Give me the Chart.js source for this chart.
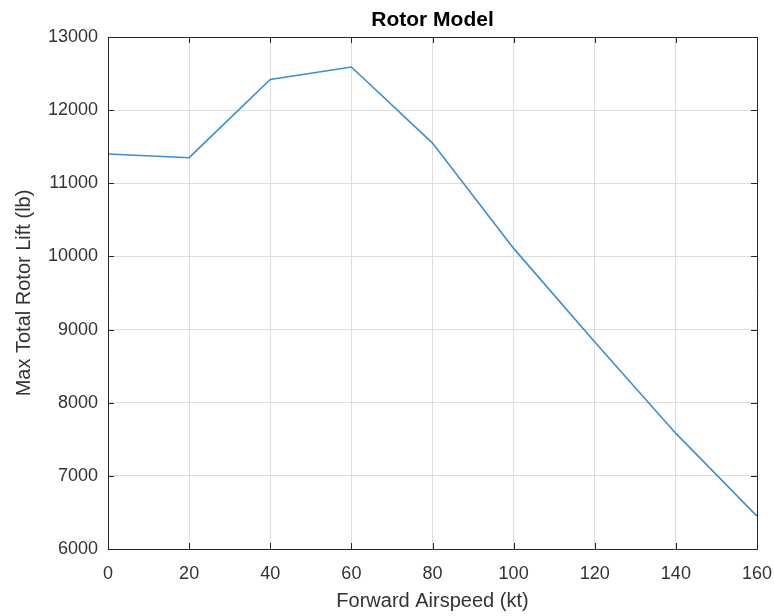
<!DOCTYPE html>
<html>
<head>
<meta charset="utf-8">
<title>Rotor Model</title>
<script src="https://cdn.jsdelivr.net/npm/chart.js@4.4.1/dist/chart.umd.min.js"></script>
<style>
  html, body { margin: 0; padding: 0; background: #ffffff; }
  #wrap { width: 774px; height: 616px; }
</style>
</head>
<body>
<div id="wrap"><canvas id="chart" width="774" height="616"></canvas></div>
<script>
// Forward airspeed (kt) and maximum total rotor lift (lb)
const airspeed = [0, 20, 40, 60, 80, 100, 120, 140, 160];
const maxLift = [11400, 11350, 12420, 12590, 11550, 10110, 8830, 7580, 6450];

const xTicks = [0, 20, 40, 60, 80, 100, 120, 140, 160];
const yTicks = [6000, 7000, 8000, 9000, 10000, 11000, 12000, 13000];

const chartTitle = 'Rotor Model';
const xTitle = 'Forward Airspeed (kt)';
const yTitle = 'Max Total Rotor Lift (lb)';

const FONT = "'Liberation Sans', Arial, Helvetica, sans-serif";
const AXIS_COLOR = '#262626';
const LABEL_COLOR = '#333333';
const GRID_COLOR = '#dedede';
const TICK_LEN = 6;

// Box around the plot area with inward tick marks on all four sides,
// plus the bold title centred over the plot area.
const boxPlugin = {
  id: 'boxPlugin',
  afterDatasetsDraw(chart) {
    const { ctx, chartArea: a, scales } = chart;
    const xs = scales.x, ys = scales.y;
    ctx.save();
    ctx.strokeStyle = AXIS_COLOR;
    ctx.lineWidth = 1;
    ctx.beginPath();
    ctx.rect(Math.round(a.left) + 0.5, Math.round(a.top) + 0.5,
             Math.round(a.right - a.left), Math.round(a.bottom - a.top));
    ctx.stroke();
    ctx.beginPath();
    xs.ticks.forEach(t => {
      const px = Math.round(xs.getPixelForValue(t.value)) + 0.5;
      ctx.moveTo(px, a.bottom); ctx.lineTo(px, a.bottom - TICK_LEN);
      ctx.moveTo(px, a.top); ctx.lineTo(px, a.top + TICK_LEN);
    });
    ys.ticks.forEach(t => {
      const py = Math.round(ys.getPixelForValue(t.value)) + 0.5;
      ctx.moveTo(a.left, py); ctx.lineTo(a.left + TICK_LEN, py);
      ctx.moveTo(a.right, py); ctx.lineTo(a.right - TICK_LEN, py);
    });
    ctx.stroke();

    ctx.fillStyle = '#000000';
    ctx.font = 'bold 21px ' + FONT;
    ctx.textAlign = 'center';
    ctx.textBaseline = 'alphabetic';
    ctx.fillText(chartTitle, (a.left + a.right) / 2, 26);
    ctx.restore();
  }
};

new Chart(document.getElementById('chart'), {
  type: 'line',
  data: {
    datasets: [{
      label: 'Max Total Rotor Lift',
      data: airspeed.map((v, i) => ({ x: v, y: maxLift[i] })),
      borderColor: '#3b8ed0',
      borderWidth: 1.6,
      pointRadius: 0,
      tension: 0,
      fill: false
    }]
  },
  options: {
    responsive: false,
    animation: false,
    devicePixelRatio: 1,
    layout: { padding: { top: 37, right: 17, left: 0, bottom: 0 } },
    plugins: {
      legend: { display: false },
      tooltip: { enabled: false },
      title: { display: false }
    },
    scales: {
      x: {
        type: 'linear',
        min: 0,
        max: 160,
        afterBuildTicks(scale) { scale.ticks = xTicks.map(v => ({ value: v })); },
        afterFit(scale) {
          scale.height = 67;
          scale.paddingLeft = 0;
          scale.paddingRight = 0;
        },
        ticks: {
          color: LABEL_COLOR,
          font: { family: FONT, size: 18 },
          padding: 14,
          maxRotation: 0,
          autoSkip: false,
          callback: v => String(v)
        },
        grid: { color: GRID_COLOR, drawTicks: false, lineWidth: 1 },
        border: { display: false },
        title: {
          display: true,
          text: xTitle,
          color: LABEL_COLOR,
          font: { family: FONT, size: 20 },
          padding: { top: 0, bottom: 3 }
        }
      },
      y: {
        type: 'linear',
        min: 6000,
        max: 13000,
        afterBuildTicks(scale) { scale.ticks = yTicks.map(v => ({ value: v })); },
        afterFit(scale) {
          scale.width = 108;
          scale.paddingTop = 0;
          scale.paddingBottom = 0;
        },
        ticks: {
          color: LABEL_COLOR,
          font: { family: FONT, size: 18 },
          padding: 10,
          autoSkip: false,
          callback: v => String(v)
        },
        grid: { color: GRID_COLOR, drawTicks: false, lineWidth: 1 },
        border: { display: false },
        title: {
          display: true,
          text: yTitle,
          color: LABEL_COLOR,
          font: { family: FONT, size: 20 },
          padding: { top: 12, bottom: 0 }
        }
      }
    }
  },
  plugins: [boxPlugin]
});
</script>
</body>
</html>
